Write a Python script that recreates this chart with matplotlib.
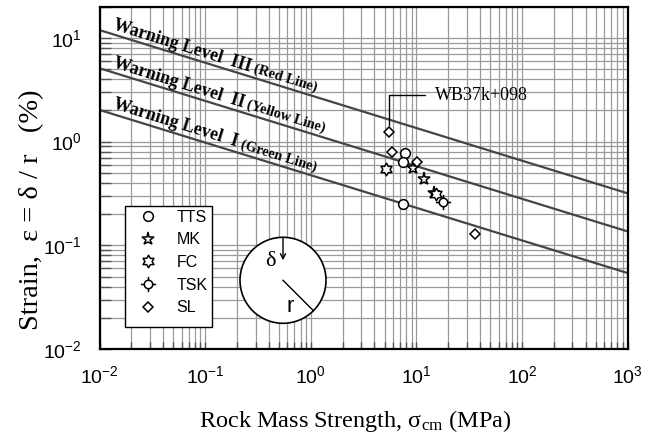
import numpy as np
import matplotlib
matplotlib.use("Agg")
import matplotlib.pyplot as plt
import matplotlib.ticker as mticker
from matplotlib.path import Path
from matplotlib.lines import Line2D
from matplotlib.patches import Rectangle, Ellipse

plt.rcParams["font.family"] = "Liberation Sans"
plt.rcParams["mathtext.fontset"] = "custom"
plt.rcParams["mathtext.rm"] = "Liberation Serif"
plt.rcParams["mathtext.it"] = "Liberation Serif:italic"
plt.rcParams["mathtext.bf"] = "Liberation Serif:bold"
plt.rcParams["mathtext.sf"] = "Liberation Sans"

# Rock mass strength (MPa) and tunnel strain (%) for each site
tts_sigma = [7.8, 7.4, 7.4]
tts_strain = [0.77, 0.64, 0.25]
mk_sigma = [9.2, 11.7, 14.7]
mk_strain = [0.56, 0.44, 0.32]
fc_sigma = [5.2, 15.4]
fc_strain = [0.545, 0.31]
tsk_sigma = [18.0]
tsk_strain = [0.26]
sl_sigma = [5.5, 5.85, 10.1, 35.9]
sl_strain = [1.23, 0.79, 0.64, 0.129]

site_names = ["TTS", "MK", "FC", "TSK", "SL"]

# Warning level lines (end points on the strength axis)
warn_sigma = [0.01, 1000]
warn_I = [2.02, 0.054]
warn_II = [5.1, 0.136]
warn_III = [11.9, 0.317]
warn_main = ["Warning Level  I", "Warning Level  II", "Warning Level  III"]
warn_sub = ["(Green Line)", "(Yellow Line)", "(Red Line)"]

# Highlighted section
wb_label = "WB37k+098"
wb_sigma, wb_strain = sl_sigma[0], sl_strain[0]

# Marker shapes
ang = np.deg2rad(90 + 30 * np.arange(12))
rad = np.where(np.arange(12) % 2 == 0, 1.0, 0.577)
hv = np.column_stack([rad * np.cos(ang), rad * np.sin(ang)])
hexagram = Path(np.vstack([hv, hv[:1]]), closed=True)
tsk_marker = Path.make_compound_path(
    Path.circle((0, 0), 0.55),
    Path([[0, 0.55], [0, 1], [0, -0.55], [0, -1], [0.55, 0], [1, 0], [-0.55, 0], [-1, 0]],
         [Path.MOVETO, Path.LINETO] * 4),
)

styles = {
    "TTS": dict(marker="o", ms=7.0),
    "MK": dict(marker="*", ms=9.5),
    "FC": dict(marker=hexagram, ms=9.0),
    "TSK": dict(marker=tsk_marker, ms=11.0),
    "SL": dict(marker="D", ms=5.6),
}
series = {
    "TTS": (tts_sigma, tts_strain),
    "MK": (mk_sigma, mk_strain),
    "FC": (fc_sigma, fc_strain),
    "TSK": (tsk_sigma, tsk_strain),
    "SL": (sl_sigma, sl_strain),
}

fig = plt.figure(figsize=(6.54, 4.36), dpi=100)
ax = fig.add_axes([99.5 / 654, 87 / 436, 528.2 / 654, 342.3 / 436])
ax.set_xscale("log")
ax.set_yscale("log")
ax.set_xlim(0.01, 1000)
ax.set_ylim(0.01, 20)

ax.xaxis.set_major_locator(mticker.LogLocator(base=10, numticks=20))
ax.yaxis.set_major_locator(mticker.LogLocator(base=10, numticks=20))
ax.xaxis.set_minor_locator(mticker.LogLocator(base=10, subs=np.arange(2, 10), numticks=20))
ax.yaxis.set_minor_locator(mticker.LogLocator(base=10, subs=np.arange(2, 10), numticks=20))
fmt = mticker.FuncFormatter(lambda v, p: r"$\mathsf{10^{%d}}$" % round(np.log10(v)))
ax.xaxis.set_major_formatter(fmt)
ax.yaxis.set_major_formatter(fmt)
ax.xaxis.set_minor_formatter(mticker.NullFormatter())
ax.yaxis.set_minor_formatter(mticker.NullFormatter())
ax.tick_params(which="both", direction="in", color="#555555", width=1.0, labelsize=14)
ax.tick_params(which="both", axis="y", length=8, pad=13)
ax.tick_params(which="both", axis="x", length=5, pad=12)

ax.grid(True, which="both", color="#9a9a9a", lw=0.9)
for s in ax.spines.values():
    s.set_linewidth(1.6)
    s.set_color("black")

# Warning lines
for ys in (warn_I, warn_II, warn_III):
    ax.plot(warn_sigma, ys, color="#454545", lw=1.6, zorder=2)

# Site data
for name in site_names:
    xs, ys = series[name]
    ax.plot(xs, ys, ls="none", mfc="white", mec="black", mew=1.1, zorder=4, **styles[name])

# Callout for the highlighted section
ax.annotate(wb_label, xy=(wb_sigma, wb_strain), xytext=(15.0, 2.81), textcoords="data",
            ha="left", va="center", fontsize=13, family="Liberation Serif",
            arrowprops=dict(arrowstyle="-", color="black", lw=1.0, shrinkA=5, shrinkB=5,
                            connectionstyle="angle,angleA=0,angleB=90,rad=0"),
            zorder=3)

fig.canvas.draw()
renderer = fig.canvas.get_renderer()

# Labels along the warning lines
def label_line(ys, x0, main, sub, off):
    p0 = ax.transData.transform((warn_sigma[0], ys[0]))
    p1 = ax.transData.transform((warn_sigma[1], ys[1]))
    d = p1 - p0
    u = d / np.hypot(*d)
    n = np.array([-u[1], u[0]])
    angle = np.degrees(np.arctan2(d[1], d[0]))
    t = (np.log10(x0) - np.log10(warn_sigma[0])) / (np.log10(warn_sigma[1]) - np.log10(warn_sigma[0]))
    p = p0 + t * d + off * n
    kw = dict(rotation=angle, rotation_mode="anchor", ha="left", va="baseline",
              family="Liberation Serif", fontweight="bold", zorder=3)
    t1 = ax.text(*ax.transData.inverted().transform(p), main, fontsize=12.9, **kw)
    w, _, _ = renderer.get_text_width_height_descent(main, t1.get_fontproperties(), ismath=False)
    p2 = p + (w + 4) * u
    ax.text(*ax.transData.inverted().transform(p2), sub, fontsize=10.3, **kw)

for ys, m, s in zip((warn_I, warn_II, warn_III), warn_main, warn_sub):
    label_line(ys, 0.0127, m, s, 5)

# Legend
handles = [Line2D([], [], ls="none", mfc="white", mec="black", mew=1.1, **styles[n]) for n in site_names]
leg = ax.legend(handles, site_names, loc="upper left", bbox_to_anchor=(0.067, 0.4066),
                frameon=False, prop={"family": "Liberation Sans", "size": 11.5},
                handlelength=1.6, handletextpad=1.0, labelspacing=0.475,
                borderpad=0, borderaxespad=0)
leg.set_zorder(6)
ax.add_patch(Rectangle((0.0483, 0.0651), 0.1641, 0.3527, transform=ax.transAxes,
                       fc="white", ec="black", lw=1.0, zorder=5))

# Tunnel cross-section sketch
bb = ax.get_window_extent()
rpx = 43.0
cx, cy = (283 - 99.5) / bb.width, (349 - 280.3) / bb.height
rw, rh = rpx / bb.width, rpx / bb.height
ax.add_patch(Ellipse((cx, cy), 2 * rw, 2 * rh, transform=ax.transAxes,
                     fc="white", ec="black", lw=1.2, zorder=5))
ax.annotate("", xy=(cx, cy + rh - 23 / bb.height), xytext=(cx, cy + rh),
            xycoords="axes fraction", textcoords="axes fraction",
            arrowprops=dict(arrowstyle="->", lw=1.0, color="black", shrinkA=0, shrinkB=0,
                            mutation_scale=9), zorder=6)
ax.plot([cx, cx + rw * np.cos(np.pi / 4)], [cy, cy - rh * np.sin(np.pi / 4)],
        transform=ax.transAxes, color="black", lw=1.0, zorder=6)
ax.text((270 - 99.5) / bb.width, (349 - 261.7) / bb.height, "δ", transform=ax.transAxes,
        ha="center", va="center", fontsize=16, family="Liberation Serif", zorder=6)
ax.text((290 - 99.5) / bb.width, (349 - 306.7) / bb.height, "r", transform=ax.transAxes,
        ha="center", va="center", fontsize=16, family="Liberation Sans", zorder=6)

# Axis titles
fig.text(38 / 654, 1 - 210 / 436, "Strain,  ε = δ / r   (%)", rotation=90, rotation_mode="anchor",
         ha="center", va="baseline", fontsize=20.5, family="Liberation Serif")
fig.text(355.5 / 654, 1 - 427 / 436, r"Rock Mass Strength, $\mathrm{σ}_{\mathrm{cm}}$ (MPa)",
         ha="center", va="baseline", fontsize=17.5, family="Liberation Serif")

fig.savefig("out.png", dpi=100)
